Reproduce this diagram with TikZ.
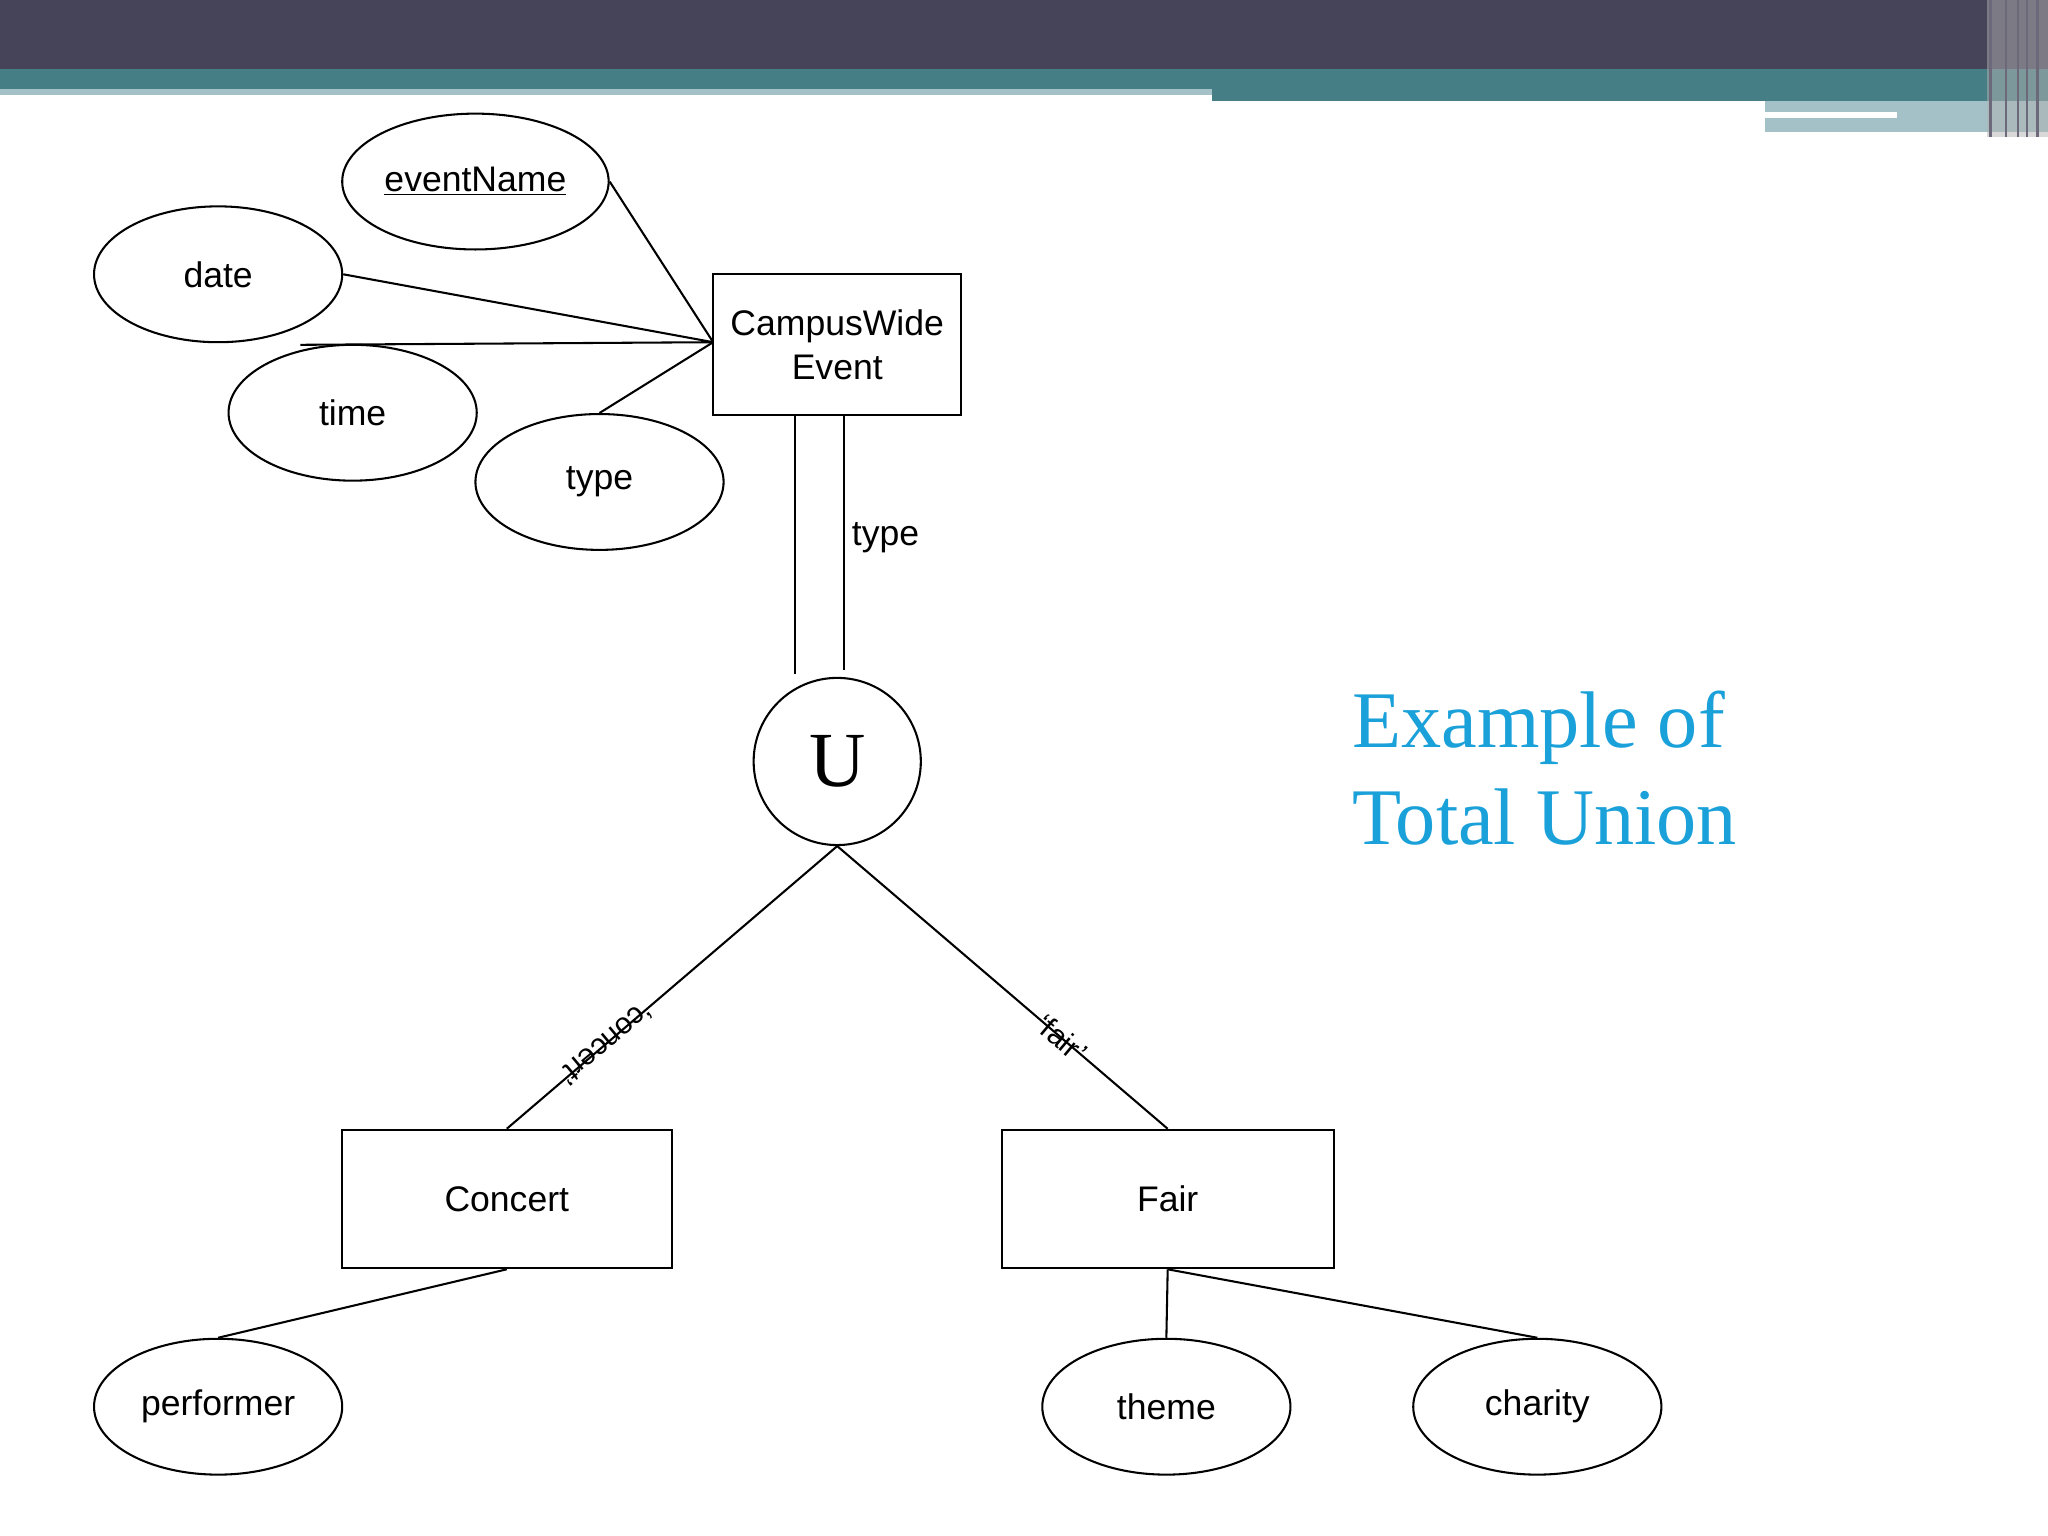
\documentclass[tikz,border=0pt]{standalone}
\usepackage{fontspec}
\setmainfont{Liberation Sans}
\newfontfamily\serifx{Liberation Serif}
\usetikzlibrary{shapes.geometric}
\definecolor{hdark}{HTML}{464459}
\definecolor{hteal}{HTML}{467E85}
\definecolor{hlight}{HTML}{A3C1C6}
\definecolor{titc}{HTML}{1BA1D9}
\begin{document}
\begin{tikzpicture}[x=0.02cm,y=-0.02cm,
  txt/.style={font=\fontsize{15.5}{19}\selectfont},
  ln/.style={line width=0.9pt},
  att/.style={draw,ellipse,inner sep=0pt,minimum width=190*0.02cm,minimum height=104*0.02cm,txt,ln}]
\useasboundingbox (0,0) rectangle (1568,1176);
\fill[white] (0,0) rectangle (1568,1176);
% header
\fill[hdark] (0,0) rectangle (1568,53);
\fill[hteal] (0,53) rectangle (928,68);
\fill[hteal] (928,53) rectangle (1568,77);
\fill[hlight] (0,68) rectangle (928,73);
\fill[hlight] (1351,77) rectangle (1568,101);
\fill[white] (1351,86) rectangle (1452,90);
\fill[gray!60,opacity=0.5] (1521,0) rectangle (1568,105);
\foreach \x in {1524,1536,1545,1552,1560} \draw[hdark!80,line width=1pt] (\x,0) -- (\x,105);
% attributes
\node[att,minimum width=204*0.02cm] (en) at (364,139) {\underline{eventName}};
\node[att] (date) at (167,210) {date};
\node[att] (time) at (270,316) {time};
\node[att] (type) at (459,369) {type};
\node[draw,minimum width=190*0.02cm,minimum height=108*0.02cm,txt,ln,align=center,inner sep=0pt] (cw) at (641,264) {CampusWide\\Event};
\node[draw,circle,minimum size=128*0.02cm,inner sep=0pt,ln,font=\serifx\fontsize{34}{36}\selectfont] (u) at (641,583) {U};
\node[draw,minimum width=253*0.02cm,minimum height=106*0.02cm,txt,ln] (con) at (388,918) {Concert};
\node[draw,minimum width=254*0.02cm,minimum height=106*0.02cm,txt,ln] (fair) at (894,918) {Fair};
\node[att] (perf) at (167,1077) {performer};
\node[att] (theme) at (893,1077) {theme};
\node[att] (char) at (1177,1077) {charity};
\coordinate (cwl) at (546,262);
\coordinate (tn) at (230,264);
% connectors
\draw[ln] (en.east) -- (cwl);
\draw[ln] (date.east) -- (cwl);
\draw[ln] (tn) -- (cwl);
\draw[ln] (type.north) -- (cwl);
\draw[ln] (609,318) -- (609,516);
\draw[ln] (646,318) -- (646,513);
\node[txt,anchor=west] (tl) at (646,412) {type};
\draw[ln] (u.south) -- coordinate[pos=0.7] (cm) (con.north);
\draw[ln] (u.south) -- coordinate[pos=0.68] (fm) (fair.north);
\node[font=\fontsize{13}{15}\selectfont,rotate=-140,inner sep=0pt] (cl) at (cm) {`concert'};
\node[font=\fontsize{13}{15}\selectfont,rotate=-40,inner sep=0pt] (fl) at (fm) {`fair'};
\draw[ln] (con.south) -- (perf.north);
\draw[ln] (fair.south) -- (theme.north);
\draw[ln] (fair.south) -- (char.north);
% title
\node[anchor=west,align=left,text=titc,font=\serifx\fontsize{35}{42}\selectfont,inner sep=0pt] (title) at (1035,588) {Example of\\Total Union};
\end{tikzpicture}
\end{document}
